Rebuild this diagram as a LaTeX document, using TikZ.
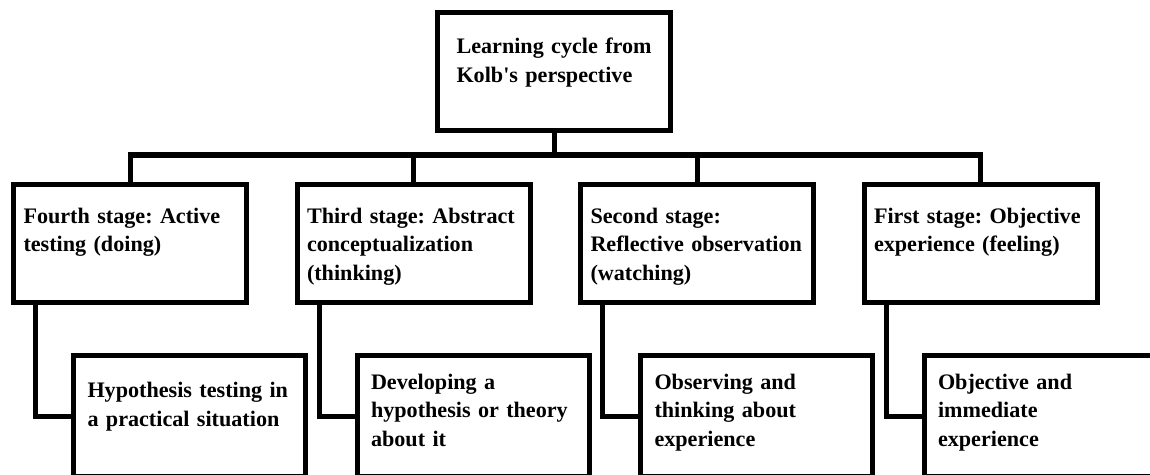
\documentclass[tikz,border=0pt]{standalone}
\usepackage{fontspec}
\setmainfont{Liberation Serif}
\frenchspacing
\usetikzlibrary{positioning}
\tikzset{
    kolbtree/.style={line width=0.1cm, font=\bfseries\fontsize{12.6}{16.5}\selectfont},
    box/.style={draw, rectangle, align=left, inner ysep=0pt, outer sep=0pt},
    headbox/.style={box, text width=4.1cm, inner xsep=0.28cm, text height=0.83cm, text depth=1.53cm},
    stagebox/.style={box, text width=4.26cm, inner xsep=0.2cm, text height=0.77cm, text depth=1.59cm},
    % activity boxes hang below and to the right of their stage
    actbox/.style={box, text width=4.08cm, inner xsep=0.28cm, text height=0.67cm, text depth=1.74cm},
}

\begin{document}
\begin{tikzpicture}[kolbtree]
    \useasboundingbox (0,0) rectangle (23,-9.5);
    \clip (0,0) rectangle (23,-9.5);

    \node[headbox, anchor=north] (kolb) at (11.08,-0.25) {\hspace*{0.1cm}Learning cycle from\\\hspace*{0.1cm}Kolb\textquotesingle s perspective};

    % the four stages
    \node[stagebox, anchor=north west] (fourth) at (0.27,-3.69) {Fourth stage: Active\\testing (doing)};
    \node[stagebox, right=1.01cm of fourth] (third)  {Third stage: Abstract\\conceptualization\\(thinking)};
    \node[stagebox, right=1.01cm of third]  (second) {Second stage:\\Reflective observation\\(watching)};
    \node[stagebox, right=1.01cm of second] (first)  {First stage: Objective\\experience (feeling)};

    % what goes on in each stage
    \node[actbox, below right=1.06cm and 1.2cm of fourth.south west, text height=0.84cm, text depth=1.57cm] (hyp) {Hypothesis testing in\\a practical situation};
    \node[actbox, below right=1.06cm and 1.2cm of third.south west]  (theory)    {Developing a\\hypothesis or theory\\about it};
    \node[actbox, below right=1.06cm and 1.2cm of second.south west] (observe)   {Observing and\\thinking about\\experience};
    \node[actbox, below right=1.06cm and 1.2cm of first.south west]  (immediate) {Objective and\\immediate\\experience};

    % tree links
    \coordinate[below=0.49cm of kolb.south] (bar);
    \draw (kolb.south) -- (bar);
    \draw (fourth.north) |- (bar) -| (first.north);
    \draw (third.north) |- (bar);
    \draw (second.north) |- (bar);

    \foreach \stage/\act in {fourth/hyp, third/theory, second/observe, first/immediate}
        \draw ([xshift=0.44cm]\stage.south west) |- ([yshift=-1.21cm]\act.north west);
\end{tikzpicture}
\end{document}
